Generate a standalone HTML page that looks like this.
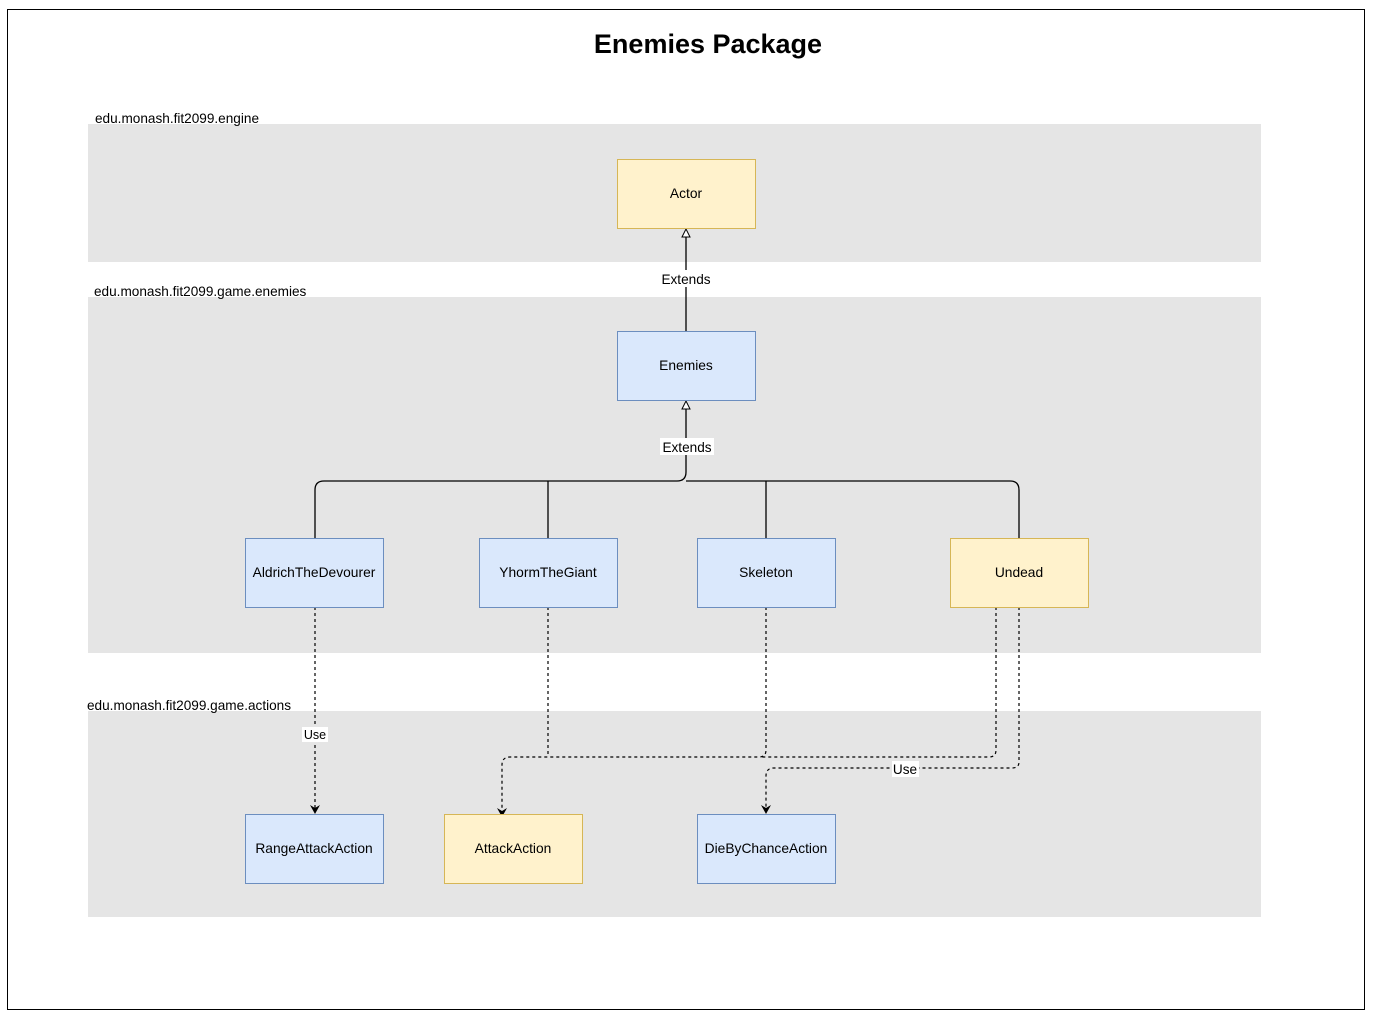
<!DOCTYPE html>
<html><head><style>
body{margin:0;background:#fff;}
svg text{font-family:"Liberation Sans",sans-serif;}
</style></head><body>
<svg width="1374" height="1018" xmlns="http://www.w3.org/2000/svg">
<rect x="0" y="0" width="1374" height="1018" fill="#fff"/>
<rect x="7.5" y="9.5" width="1357" height="1000" fill="#fff" stroke="#000" stroke-width="1"/>
<text x="708" y="53" font-size="27" font-weight="bold" text-anchor="middle">Enemies Package</text>
<rect x="88" y="124" width="1173" height="138" fill="#e5e5e5"/>
<rect x="88" y="297" width="1173" height="356" fill="#e5e5e5"/>
<rect x="88" y="711" width="1173" height="206" fill="#e5e5e5"/>
<text x="95" y="123" font-size="13.6">edu.monash.fit2099.engine</text>
<text x="94" y="296" font-size="13.6">edu.monash.fit2099.game.enemies</text>
<text x="87" y="710" font-size="13.6">edu.monash.fit2099.game.actions</text>
<g fill="none" stroke="#000" stroke-width="1.3">
<line x1="686" y1="331" x2="686" y2="236"/>
<path d="M686 408 V472 Q686 481 677 481 H324 Q315 481 315 490 V538"/>
<path d="M548 481 V538 M766 481 V538 M686 481 H1010 Q1019 481 1019 490 V538"/>
</g>
<polygon points="686,229 682,237 690,237" fill="#fff" stroke="#000"/>
<polygon points="686,401 682,409 690,409" fill="#fff" stroke="#000"/>
<rect x="659" y="270" width="54" height="17" fill="#fff"/>
<text x="686" y="284" font-size="13.6" text-anchor="middle">Extends</text>
<rect x="660" y="438" width="54" height="17" fill="#fff"/>
<text x="687" y="452" font-size="13.6" text-anchor="middle">Extends</text>
<g fill="none" stroke="#000" stroke-width="1.2" stroke-dasharray="3,3">
<line x1="315" y1="607" x2="315" y2="808"/>
<path d="M548 607 V757 M766 607 V750 Q766 757 759 757 H510 Q502 757 502 765 V808"/>
<path d="M996 607 V750 Q996 757 989 757 H760"/>
<path d="M1019 607 V762 Q1019 768 1012 768 H774 Q766 768 766 776 V808"/>
</g>
<g fill="#000">
<polygon points="315,814 310,805 315,808 320,805"/>
<polygon points="502,817 497,808 502,811 507,808"/>
<polygon points="766,814 761,805 766,808 771,805"/>
</g>
<rect x="302" y="727" width="26" height="15" fill="#fff"/>
<text x="315" y="739" font-size="12.5" text-anchor="middle">Use</text>
<rect x="892" y="761" width="27" height="16" fill="#fff"/>
<text x="905" y="774" font-size="13.6" text-anchor="middle">Use</text>
<g font-size="13.8" text-anchor="middle">
<rect x="617.5" y="159.5" width="138" height="69" fill="#fff2cc" stroke="#d6b656"/>
<text x="686" y="198">Actor</text>
<rect x="617.5" y="331.5" width="138" height="69" fill="#dae8fc" stroke="#6c8ebf"/>
<text x="686" y="370">Enemies</text>
<rect x="245.5" y="538.5" width="138" height="69" fill="#dae8fc" stroke="#6c8ebf"/>
<text x="314" y="577">AldrichTheDevourer</text>
<rect x="479.5" y="538.5" width="138" height="69" fill="#dae8fc" stroke="#6c8ebf"/>
<text x="548" y="577">YhormTheGiant</text>
<rect x="697.5" y="538.5" width="138" height="69" fill="#dae8fc" stroke="#6c8ebf"/>
<text x="766" y="577">Skeleton</text>
<rect x="950.5" y="538.5" width="138" height="69" fill="#fff2cc" stroke="#d6b656"/>
<text x="1019" y="577">Undead</text>
<rect x="245.5" y="814.5" width="138" height="69" fill="#dae8fc" stroke="#6c8ebf"/>
<text x="314" y="853">RangeAttackAction</text>
<rect x="444.5" y="814.5" width="138" height="69" fill="#fff2cc" stroke="#d6b656"/>
<text x="513" y="853">AttackAction</text>
<rect x="697.5" y="814.5" width="138" height="69" fill="#dae8fc" stroke="#6c8ebf"/>
<text x="766" y="853">DieByChanceAction</text>
</g>
</svg>
</body></html>
